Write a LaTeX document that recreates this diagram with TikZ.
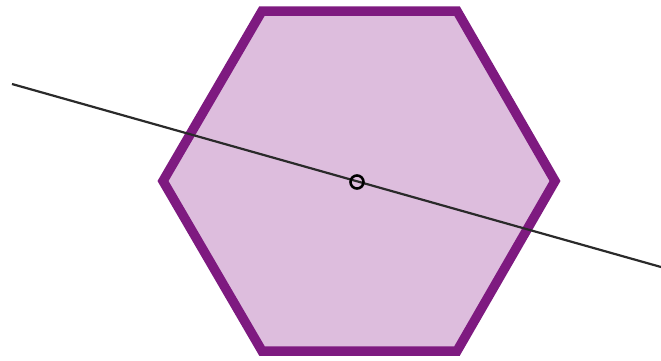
\documentclass[tikz,border=0pt]{standalone}
\definecolor{hexfill}{HTML}{DDBDDD}
\definecolor{hexline}{HTML}{7E1A80}
\definecolor{axisline}{HTML}{2A2A2A}
\begin{document}
\begin{tikzpicture}[x=1pt,y=-1pt,
  hexstyle/.style={fill=hexfill,draw=hexline,line width=9.5pt,line join=miter},
  axisstyle/.style={draw=axisline,line width=2.2pt},
  centremark/.style={circle,draw=black,line width=2.6pt,minimum size=13pt,inner sep=0pt}]
\useasboundingbox (0,0) rectangle (661,360);
\coordinate (h1) at (262,11);
\coordinate (h2) at (457,11);
\coordinate (h3) at (555,181);
\coordinate (h4) at (457,351);
\coordinate (h5) at (262,351);
\coordinate (h6) at (163,181);
\draw[hexstyle] (h1) -- (h2) -- (h3) -- (h4) -- (h5) -- (h6) -- cycle;
\coordinate (a) at (12,84);
\coordinate (b) at (661,267);
\draw[axisstyle] (a) -- (b);
\node[centremark] (c) at (357,182) {};
\end{tikzpicture}
\end{document}
